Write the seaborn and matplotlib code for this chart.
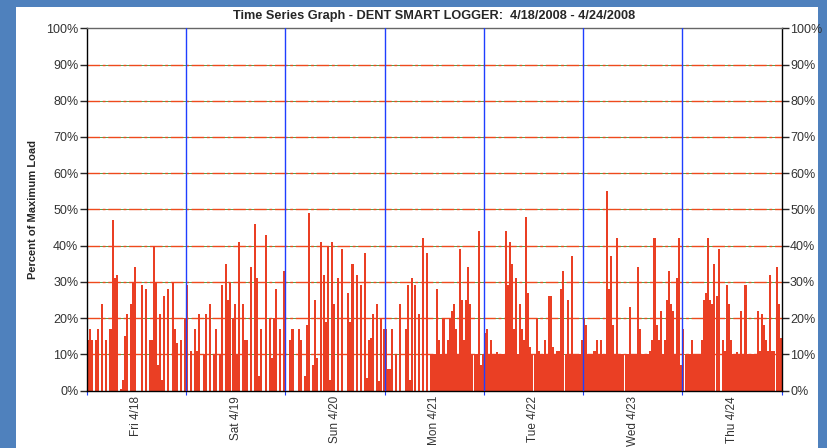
import numpy as np
import pandas as pd
import seaborn as sns
import matplotlib.pyplot as plt
from matplotlib.patches import Rectangle

# half-hour readings, percent of maximum load (48 per day)
fri = [14, 17, 14, 0, 14, 17, 0, 24, 0, 14, 0, 17, 47, 31, 32, 0, 0.3, 3, 15, 21,
       0, 24, 30, 34, 0, 0, 29, 0, 28, 0, 14, 14, 40, 30, 7, 21, 3, 26, 0, 28,
       0, 30, 17, 13, 0, 14, 0, 20]
sat = [29, 0, 11, 0, 17, 11, 21, 0, 10, 21, 0, 24, 0, 10, 17, 0, 10, 29, 0, 35,
       25, 30, 20, 24, 10, 41, 0, 24, 14, 14, 0, 34, 0, 46, 31, 4, 17, 0, 43, 0,
       20, 9, 20, 28, 0, 17, 0, 33]
sun = [0, 0, 14, 17, 0, 0, 17, 14, 0, 4, 18, 49, 0, 7, 25, 9, 0, 41, 32, 19,
       40, 3, 41, 24, 0, 31, 0, 39, 0, 0, 27, 19, 35, 0, 32, 0, 29, 0, 38, 3.5,
       14, 14.5, 21, 0, 24, 2.7, 20, 17]
mon = [17, 6, 6, 17, 0, 10, 0, 24, 0, 0, 17, 29, 3, 31, 29, 0, 21, 0, 42, 0,
       38, 0, 10, 10, 10, 28, 14, 10, 20, 10, 14, 20, 22, 24, 17, 10, 39, 25, 14, 25,
       34, 24, 10, 10, 10, 44, 7, 10]
tue = [16, 17, 10, 14, 10, 10, 10.5, 10, 10, 10, 44, 29, 41, 35, 17, 31, 10, 24, 17, 14,
       48, 27, 12, 10, 10, 20, 11, 10, 10, 14, 10, 26, 26, 12, 10, 11, 11, 28, 33, 10,
       25, 10, 37, 10, 10, 10, 10, 14]
wed = [20, 18, 10, 10, 10, 11, 14, 10, 14, 10, 10, 55, 28, 37, 18, 10, 42, 10, 10, 10,
       10, 10, 23, 10, 10, 10, 34, 17, 10, 10, 10, 10, 11, 14, 42, 18, 14, 22, 10, 14,
       25, 33, 24, 22, 10, 31, 42, 7]
thu = [17, 10, 10, 10, 14, 10, 10, 10, 10, 14, 25, 27, 42, 25, 24, 35, 26, 39, 0, 14,
       11, 29, 24, 14, 10, 10, 10.5, 10, 22, 10, 29, 10, 10, 10, 10, 10, 22, 11, 21, 18,
       14, 11, 32, 11, 11, 34, 24, 14.5]

day_labels = ['Fri 4/18', 'Sat 4/19', 'Sun 4/20', 'Mon 4/21', 'Tue 4/22', 'Wed 4/23', 'Thu 4/24']
y_ticks = [0, 10, 20, 30, 40, 50, 60, 70, 80, 90, 100]
title = 'Time Series Graph - DENT SMART LOGGER:  4/18/2008 - 4/24/2008'

load = fri + sat + sun + mon + tue + wed + thu
per_day = len(fri)
df = pd.DataFrame({
    'time': pd.date_range('2008-04-18', periods=len(load), freq='30min'),
    'load': load,
})
df['slot'] = np.arange(len(df))

sns.set_style('white')
plt.rcParams['font.family'] = ['Liberation Sans', 'DejaVu Sans']

fig = plt.figure(figsize=(8.27, 4.48), dpi=100)
fig.patch.set_facecolor('#4F81BD')
fig.add_artist(Rectangle((16 / 827, 0), (818 - 16) / 827, (448 - 7) / 448,
                         transform=fig.transFigure, facecolor='white', edgecolor='none', zorder=0))

ax = fig.add_axes([86.7 / 827, 1 - 390.5 / 448, (781.7 - 86.7) / 827, (390.5 - 28.3) / 448])
ax.set_facecolor('white')

# gridlines: thin green underneath, red dash-dot on top
for v in y_ticks[1:-1]:
    ax.axhline(v, color='#3c8c28', lw=0.6, zorder=0.5)
    ax.axhline(v, color='#ee4a1c', lw=1.0, ls=(0, (9, 2, 2, 2)), zorder=0.6)

sns.barplot(data=df, x='slot', y='load', color='#EA3F24', saturation=1,
            width=0.98, errorbar=None, linewidth=0, ax=ax, zorder=2)

bounds = np.arange(0, len(load) + 1, per_day) - 0.5
for b in bounds[1:-1]:
    ax.axvline(b, color='#1f3fff', lw=1, zorder=3)

ax.set_xlim(-0.5, len(load) - 0.5)
ax.set_ylim(0, 100)
ax.set_xlabel('')
ax.set_ylabel('')

ax.set_xticks(bounds, labels=[''] * len(bounds))
centers = np.arange(len(day_labels)) * per_day + per_day / 2 - 0.5
ax.set_xticks(centers, labels=day_labels, minor=True)
ax.tick_params(axis='x', which='major', length=3, color='#1f3fff', direction='out', bottom=True)
ax.tick_params(axis='x', which='minor', length=0, labelsize=8.5, labelcolor='#333333',
               labelrotation=90, pad=4)

ax.set_yticks(y_ticks, labels=[f'{v}%' for v in y_ticks])
ax.tick_params(axis='y', which='major', length=5, width=1, labelsize=9, labelcolor='#333333',
               left=True, right=True, labelleft=True, labelright=True, pad=1)
for t in ax.yaxis.get_major_ticks():
    t.tick1line.set_color('#ee4a1c')
    t.tick2line.set_color('#3c8c28')

for side in ['left', 'right', 'bottom']:
    ax.spines[side].set_color('black')
    ax.spines[side].set_linewidth(1)
ax.spines['top'].set_color('#666666')
ax.spines['top'].set_linewidth(1)

fig.text(434 / 827, 1 - 16 / 448, title, ha='center', va='center',
         fontsize=9.2, fontweight='bold')
fig.text(33 / 827, 1 - 209 / 448, 'Percent of Maximum Load', ha='center', va='center',
         rotation=90, fontsize=8, fontweight='bold')

fig.savefig('out.png', dpi=100, facecolor=fig.get_facecolor())
